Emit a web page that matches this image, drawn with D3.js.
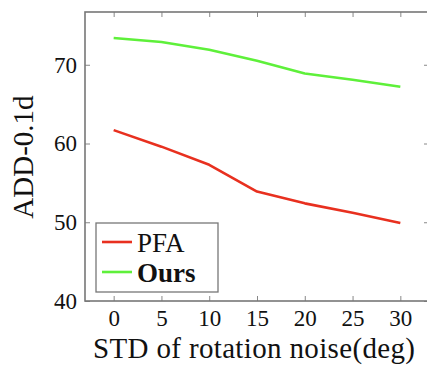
<!DOCTYPE html>
<html lang="en">
<head>
<meta charset="UTF-8">
<script src="https://d3js.org/d3.v7.min.js"></script>
<style>
  body { margin: 0; background: #fff; }
</style>
</head>
<body>
<svg width="427" height="365"></svg>
<script>
const noise = [0, 5, 10, 15, 20, 25, 30];
const pfa = [61.7, 59.6, 57.3, 53.9, 52.4, 51.2, 49.9];
const ours = [73.4, 72.9, 71.9, 70.5, 68.9, 68.1, 67.2];
const yTicks = [40, 50, 60, 70];
const seriesNames = ["PFA", "Ours"];
const seriesColors = ["#e8301f", "#5ef03a"];

const serif = "'Liberation Serif', 'Times New Roman', serif";

const svg = d3.select("svg"),
    margin = {top: 12, right: -2, bottom: 64, left: 85},
    width = 427 - margin.left - margin.right,
    height = 365 - margin.top - margin.bottom;

const g = svg.append("g").attr("transform", `translate(${margin.left},${margin.top})`);

const x = d3.scaleLinear().domain([-3, 33]).range([0, width]);
const y = d3.scaleLinear().domain([40, 76.7]).range([height, 0]);

const tickColor = "#888";

// ticks point inward on all four sides
const xb = g.append("g").attr("transform", `translate(0,${height})`)
    .call(d3.axisBottom(x).tickValues(noise).tickSize(-5).tickPadding(9).tickFormat(d3.format("d")));
const xt = g.append("g")
    .call(d3.axisTop(x).tickValues(noise).tickSize(-5).tickFormat(""));
const yl = g.append("g")
    .call(d3.axisLeft(y).tickValues(yTicks).tickSize(-5).tickPadding(8).tickFormat(d3.format("d")));
const yr = g.append("g").attr("transform", `translate(${width},0)`)
    .call(d3.axisRight(y).tickValues(yTicks).tickSize(-5).tickFormat(""));

[xb, xt, yl, yr].forEach(a => {
  a.attr("font-family", null);
  a.select(".domain").remove();
  a.selectAll("line").attr("stroke", tickColor).attr("stroke-width", 1);
  a.selectAll("text")
      .style("font-family", serif)
      .style("font-size", "23px")
      .attr("fill", "#111");
});

g.append("rect")
    .attr("width", width).attr("height", height)
    .attr("fill", "none").attr("stroke", "#777").attr("stroke-width", 1.6);

const line = d3.line().x((d, i) => x(noise[i])).y(d => y(d));

[pfa, ours].forEach((s, i) => {
  g.append("path").datum(s)
      .attr("fill", "none")
      .attr("stroke", seriesColors[i])
      .attr("stroke-width", 2.6)
      .attr("stroke-linejoin", "round")
      .attr("d", line);
});

// axis labels
svg.append("text")
    .attr("x", 254).attr("y", 358)
    .attr("text-anchor", "middle")
    .attr("textLength", 322)
    .style("font-family", serif)
    .style("font-size", "29px")
    .attr("fill", "#111")
    .text("STD of rotation noise(deg)");

svg.append("text")
    .attr("transform", "translate(33,157) rotate(-90)")
    .attr("text-anchor", "middle")
    .style("font-family", serif)
    .style("font-size", "29px")
    .attr("fill", "#111")
    .text("ADD-0.1d");

// legend
const lg = svg.append("g").attr("transform", "translate(96,223)");
lg.append("rect")
    .attr("width", 122).attr("height", 69)
    .attr("fill", "#fff").attr("stroke", "#777").attr("stroke-width", 1.3);
seriesNames.forEach((n, i) => {
  const yy = 19 + i * 30;
  lg.append("line")
      .attr("x1", 6).attr("x2", 36)
      .attr("y1", yy).attr("y2", yy)
      .attr("stroke", seriesColors[i]).attr("stroke-width", 2.6);
  lg.append("text")
      .attr("x", 41).attr("y", yy + 10)
      .style("font-family", serif)
      .style("font-size", "27px")
      .style("font-weight", i === 1 ? "bold" : "normal")
      .attr("fill", "#111")
      .text(n);
});
</script>
</body>
</html>
